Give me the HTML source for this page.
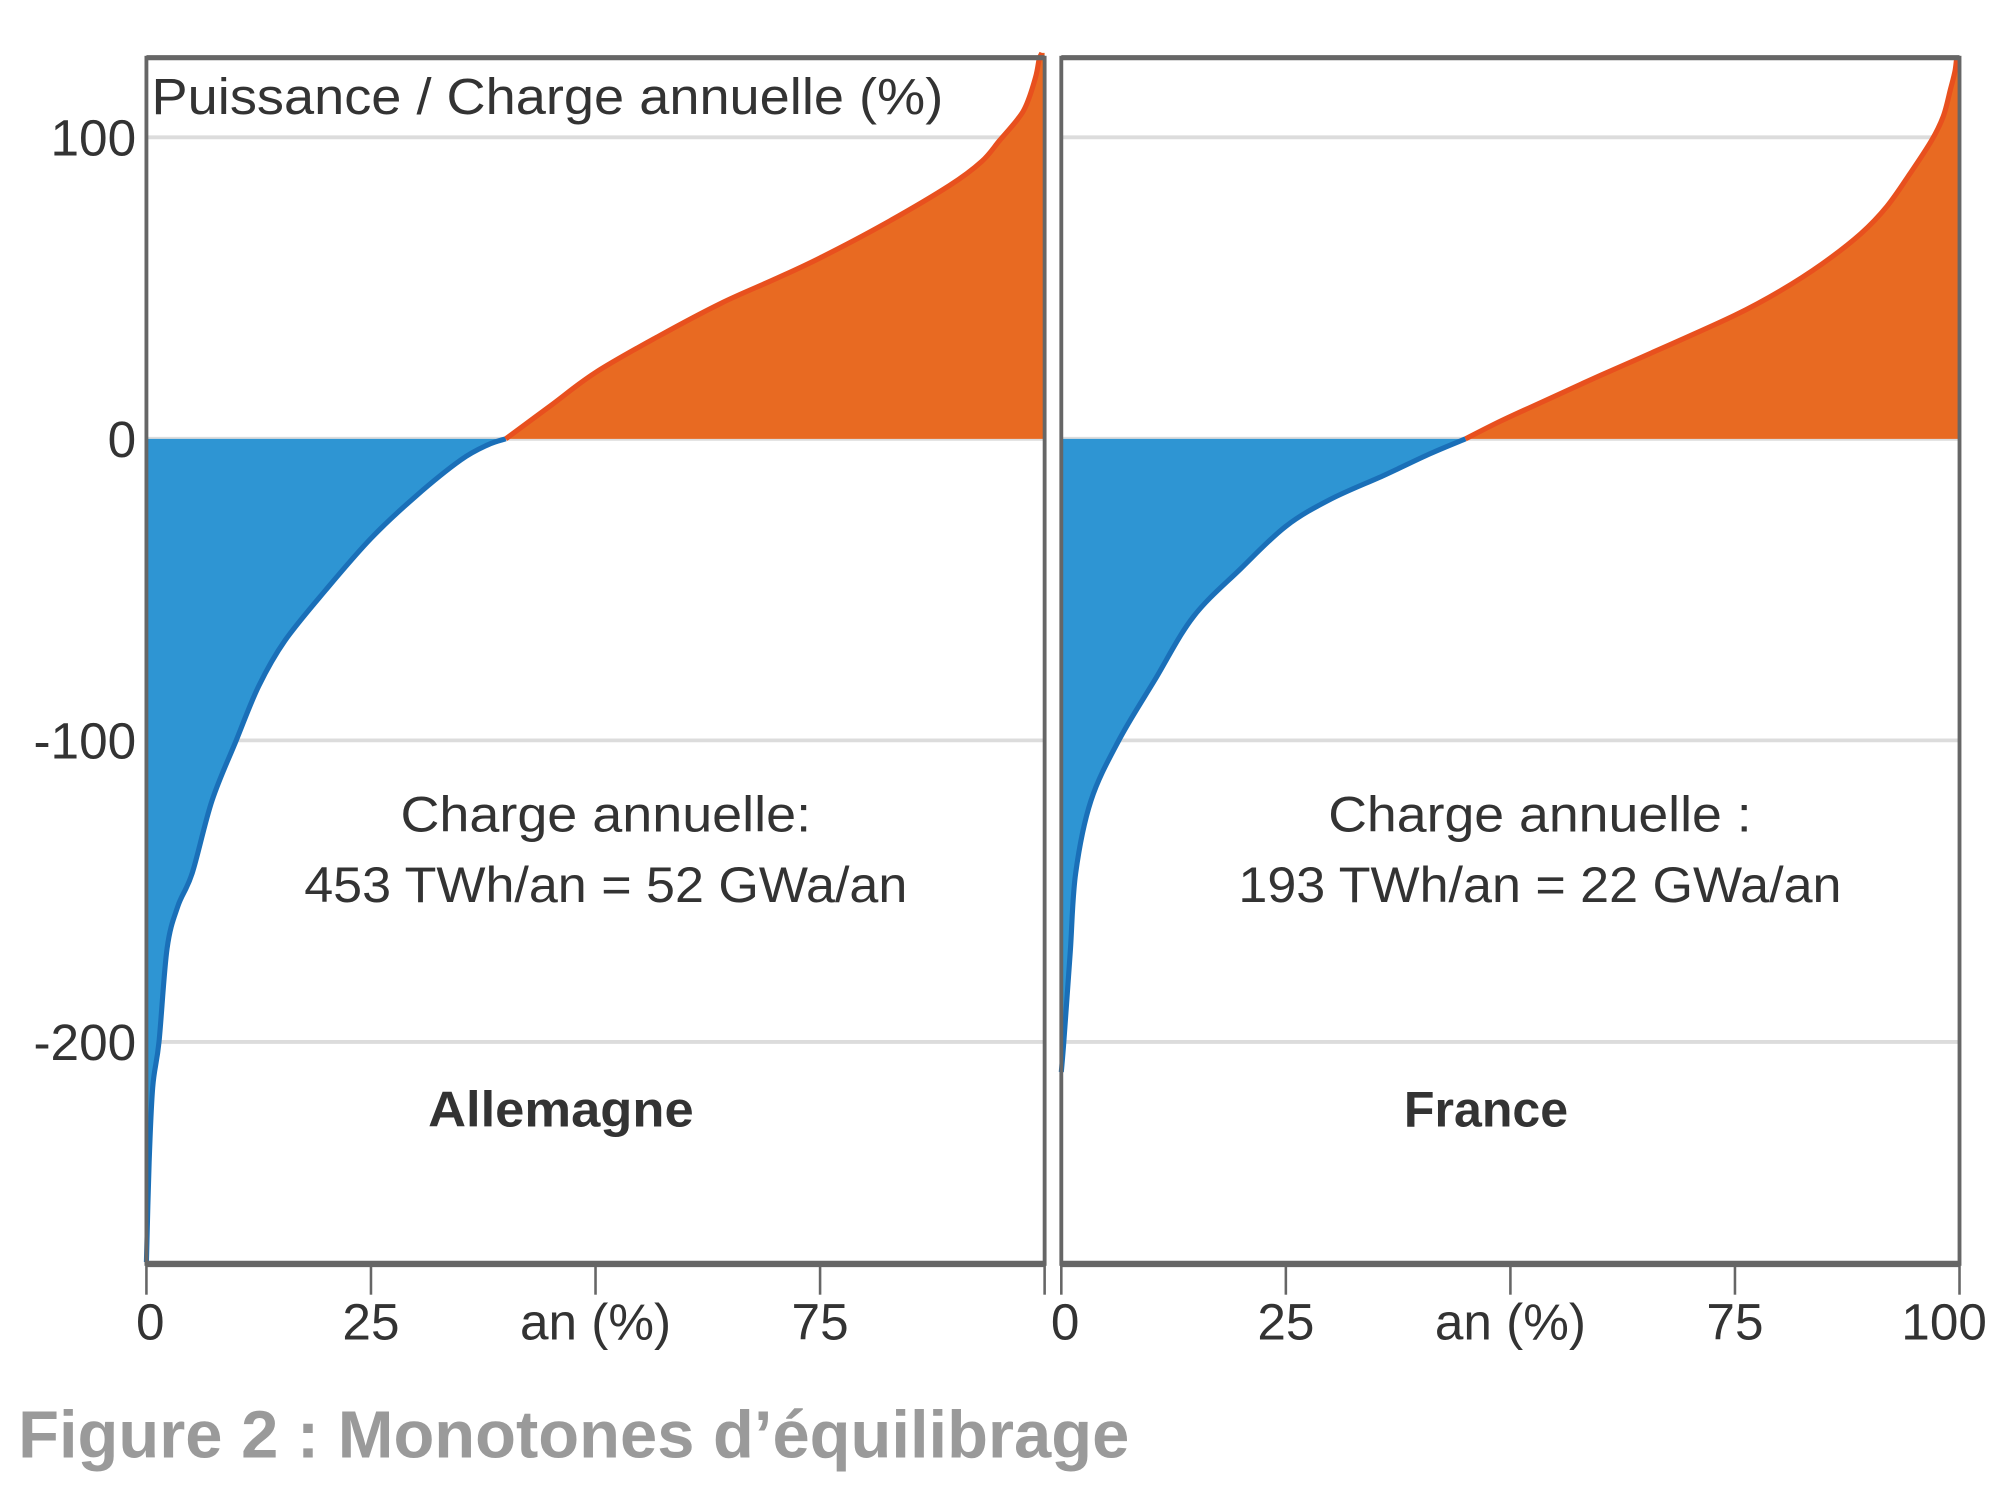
<!DOCTYPE html>
<html><head><meta charset="utf-8"><style>
html,body{margin:0;padding:0;background:#fff;}
svg{display:block;font-family:"Liberation Sans",sans-serif;}
</style></head><body>
<svg id="chart" width="2002" height="1500" viewBox="0 0 1560 1169" xmlns="http://www.w3.org/2000/svg">
<g id="grid"></g>
<g id="marks"></g>
<g id="frames"></g>
<g id="labels"></g>
</svg>
<script>
// Germany (Allemagne): x = % of year, y = power / annual load (%)
const deX = [0, 0.3, 0.7, 1.4, 2.3, 3.5, 5.1, 7.3, 10, 12.5, 15.4, 20, 25, 30, 35, 38, 40, 45, 50, 57, 64, 70, 75, 82, 89.4, 93, 95, 97, 98, 99, 99.4, 99.7];
const deY = [-273, -240, -215, -200, -169, -155, -144, -120, -100, -82, -67, -50, -33, -19, -7, -2, 0, 11, 22, 34, 45, 53, 60, 71, 84, 92, 99, 106, 111, 120, 126, 128];
// France
const frX = [0, 0.2, 0.4, 1, 1.6, 3.3, 6.4, 10.4, 14.7, 20, 25, 30, 36, 41, 45, 49, 53, 60, 67.6, 75, 80, 84.7, 89, 91.9, 94.5, 96.9, 98.2, 99, 99.5, 99.7];
const frY = [-210, -203, -195, -170, -144, -120, -100, -80, -59, -43, -29, -20, -12, -5, 0, 6, 11.5, 21, 31, 41, 49, 58, 68, 77, 88, 99, 107, 116, 122, 127];
const yTicks = [100, 0, -100, -200];
const xTickVals = [0, 25, 50, 75, 100];
const leftXLabels = ["0", "25", "an (%)", "75", ""];
const rightXLabels = ["0", "25", "an (%)", "75", "100"];

const NS = "http://www.w3.org/2000/svg";
const Y0 = 342, PPU = 2.35, TOP = 45, BOT = 985, PW = 700;
const panels = [{x0: 114, name: "allemagne"}, {x0: 827, name: "france"}];
function yS(v){ return Y0 - v * PPU; }
function xS(p, v){ return p.x0 + v / 100 * PW; }
function mk(tag, attrs, parent){
  const e = document.createElementNS(NS, tag);
  for (const k in attrs) e.setAttribute(k, attrs[k]);
  parent.appendChild(e); return e;
}
function smooth(pts){
  let d = "";
  for (let i = 0; i < pts.length - 1; i++){
    const p0 = pts[Math.max(0, i-1)], p1 = pts[i], p2 = pts[i+1], p3 = pts[Math.min(pts.length-1, i+2)];
    const c1 = [p1[0] + (p2[0]-p0[0])/6, p1[1] + (p2[1]-p0[1])/6];
    const c2 = [p2[0] - (p3[0]-p1[0])/6, p2[1] - (p3[1]-p1[1])/6];
    d += " C" + c1[0] + "," + c1[1] + " " + c2[0] + "," + c2[1] + " " + p2[0] + "," + p2[1];
  }
  return d;
}
const grid = document.getElementById("grid"), marks = document.getElementById("marks"),
      frames = document.getElementById("frames"), labels = document.getElementById("labels");

panels.forEach(p => {
  yTicks.forEach(t => {
    const l = mk("line", {x1: p.x0, x2: p.x0 + PW, y1: yS(t), y2: yS(t), stroke: "#dcdcdc", "stroke-width": 3}, grid);
    
    
  });
});

function drawSeries(p, xs, ys){
  const neg = [], pos = [];
  for (let i = 0; i < xs.length; i++){
    if (ys[i] <= 0) neg.push([xS(p, xs[i]), yS(ys[i])]);
    if (ys[i] >= 0) pos.push([xS(p, xs[i]), yS(ys[i])]);
  }
  const negPath = "M" + neg[0][0] + "," + neg[0][1] + smooth(neg);
  const posPath = "M" + pos[0][0] + "," + pos[0][1] + smooth(pos);
  const nf = mk("path", {d: negPath + " L" + xS(p, 0) + "," + yS(0) + " Z", fill: "#2e95d3"}, marks);
  
  
  const last = pos[pos.length-1];
  const pf = mk("path", {d: posPath + " L" + xS(p, 100) + "," + last[1] + " L" + xS(p, 100) + "," + yS(0) + " L" + pos[0][0] + "," + yS(0) + " Z", fill: "#e86a22"}, marks);
  
  
  const nl = mk("path", {d: negPath, fill: "none", stroke: "#1a6fb8", "stroke-width": 4, "stroke-linejoin": "round"}, marks);
  
  
  const pl = mk("path", {d: posPath, fill: "none", stroke: "#e8501e", "stroke-width": 4, "stroke-linejoin": "round"}, marks);
  
  
}
drawSeries(panels[0], deX, deY);
drawSeries(panels[1], frX, frY);

panels.forEach((p, pi) => {
  const r = mk("rect", {x: p.x0, y: TOP, width: PW, height: BOT - TOP, fill: "none", stroke: "#666", "stroke-width": 3}, frames);
  
  
  mk("line", {x1: p.x0, x2: p.x0 + PW, y1: BOT, y2: BOT, stroke: "#666", "stroke-width": 5}, frames);
  mk("line", {x1: p.x0, x2: p.x0 + PW, y1: TOP, y2: TOP, stroke: "#666", "stroke-width": 4}, frames);
  const labs = pi === 0 ? leftXLabels : rightXLabels;
  xTickVals.forEach((v, i) => {
    const t = mk("line", {x1: xS(p, v), x2: xS(p, v), y1: BOT, y2: BOT + 24, stroke: "#666", "stroke-width": 2}, frames);
    
    
    if (labs[i]){
      const tx = mk("text", {x: xS(p, v) + (v === 0 ? 3 : (v === 100 ? -12 : 0)), y: 1044, "font-size": 40, fill: "#333", "text-anchor": "middle"}, labels);
      tx.textContent = labs[i];
      
      
    }
  });
});
yTicks.forEach(t => {
  const tx = mk("text", {x: 106, y: yS(t) + 14, "font-size": 40, fill: "#333", "text-anchor": "end"}, labels);
  tx.textContent = t;
  
  
});
</script>
<script>
(function(){
  const svg = document.getElementById("labels");
  const NS = "http://www.w3.org/2000/svg";
  function t(txt, x, y, size, anchor, len, name, extra){
    const e = document.createElementNS(NS, "text");
    e.setAttribute("x", x); e.setAttribute("y", y);
    e.setAttribute("font-size", size); e.setAttribute("text-anchor", anchor);
    e.setAttribute("fill", (extra && extra.fill) || "#333");
    if (extra && extra.bold) e.setAttribute("font-weight", "bold");
    e.setAttribute("textLength", len); e.setAttribute("lengthAdjust", "spacingAndGlyphs");
    e.textContent = txt;
    svg.appendChild(e);
    
    
  }
  t("Puissance  / Charge annuelle (%)", 118, 89, 40, "start", 617, "y-axis-title");
  t("Charge annuelle:", 472, 648, 39, "middle", 320, "allemagne-annual-load-label");
  t("453 TWh/an = 52 GWa/an", 472, 703, 39, "middle", 470, "allemagne-annual-load-value");
  t("Allemagne", 437, 878, 39, "middle", 207, "allemagne-panel-title", {bold: true});
  t("Charge annuelle :", 1200, 648, 39, "middle", 330, "france-annual-load-label");
  t("193 TWh/an = 22 GWa/an", 1200, 703, 39, "middle", 470, "france-annual-load-value");
  t("France", 1158, 878, 39, "middle", 128, "france-panel-title", {bold: true});
  t("Figure 2 : Monotones d’équilibrage", 14, 1136, 52, "start", 866, "figure-caption", {bold: true, fill: "#9a9a9a"});
})();
</script>
</body></html>
